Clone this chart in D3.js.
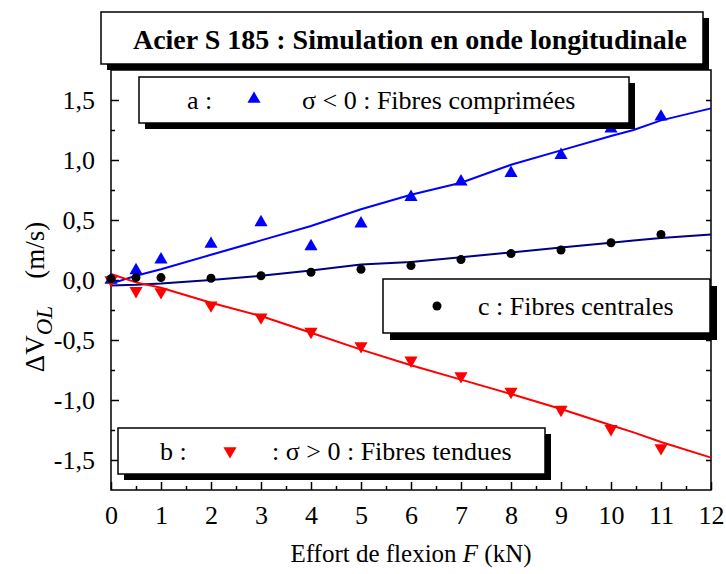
<!DOCTYPE html>
<html>
<head>
<meta charset="utf-8">
<script src="https://cdn.jsdelivr.net/npm/d3@7"></script>
<style>
  html, body { margin: 0; padding: 0; background: #fff; }
  svg { display: block; }
  svg text { font-family: "Times New Roman", "Liberation Serif", Times, serif; }
</style>
</head>
<body>
<svg id="chart" width="726" height="574"></svg>
<script>
// Measured load steps (kN) and velocity changes (m/s)
const loadF = [0, 0.5, 1, 2, 3, 4, 5, 6, 7, 8, 9, 10, 11];
const compressed = [0.00, 0.08, 0.17, 0.30, 0.48, 0.28, 0.47, 0.69, 0.82, 0.89, 1.04, 1.26, 1.36];
const tensile = [0.00, -0.09, -0.10, -0.21, -0.31, -0.43, -0.55, -0.67, -0.80, -0.93, -1.08, -1.24, -1.40];
const central = [0.01, 0.02, 0.02, 0.015, 0.035, 0.065, 0.09, 0.12, 0.17, 0.22, 0.25, 0.31, 0.38];

// Simulated curves
const simF = [0, 0.5, 1, 2, 3, 4, 5, 6, 7, 8, 9, 10, 10.45, 11, 12];
const simCompressed = [-0.03, 0.035, 0.09, 0.21, 0.33, 0.45, 0.59, 0.71, 0.81, 0.96, 1.08, 1.20, 1.25, 1.33, 1.43];
const simTensile = [0.05, -0.02, -0.065, -0.19, -0.30, -0.44, -0.58, -0.71, -0.83, -0.95, -1.075, -1.21, -1.27, -1.35, -1.48];
const simCentral = [-0.045, -0.04, -0.03, 0.0, 0.035, 0.08, 0.13, 0.15, 0.19, 0.23, 0.27, 0.31, 0.33, 0.35, 0.38];

// Tick labels
const xTicks = [0, 1, 2, 3, 4, 5, 6, 7, 8, 9, 10, 11, 12];
const xTickLabels = ["0", "1", "2", "3", "4", "5", "6", "7", "8", "9", "10", "11", "12"];
const yTicks = [-1.5, -1.0, -0.5, 0, 0.5, 1.0, 1.5];
const yTickLabels = ["-1,5", "-1,0", "-0,5", "0,0", "0,5", "1,0", "1,5"];

const FONT = '"Times New Roman", "Liberation Serif", Times, serif';
const svg = d3.select("#chart");
const L = 111, R = 711, T = 70, B = 490;
const x = d3.scaleLinear().domain([0, 12]).range([L, R]);
const y = d3.scaleLinear().domain([-1.75, 1.75]).range([B, T]);

// Frame
svg.append("rect").attr("x", L).attr("y", T).attr("width", R - L).attr("height", B - T)
  .attr("fill", "none").attr("stroke", "#000").attr("stroke-width", 1.5);

// Bottom axis: major ticks inward with labels, minor ticks at half steps
const gx = svg.append("g").attr("transform", `translate(0,${B})`)
  .call(d3.axisBottom(x).tickValues(xTicks).tickSize(-8).tickPadding(16)
    .tickFormat((d, i) => xTickLabels[i]));
gx.attr("font-family", FONT).attr("font-size", 26);
gx.select(".domain").remove();
gx.selectAll("line").attr("stroke-width", 1.5);
gx.selectAll("text").attr("fill", "#000");
svg.append("g").attr("transform", `translate(0,${B})`)
  .call(d3.axisBottom(x).tickValues(d3.range(0.5, 12, 1)).tickSize(-4).tickFormat(""))
  .call(g => g.select(".domain").remove())
  .selectAll("line").attr("stroke-width", 1.5);

// Left axis
const gy = svg.append("g").attr("transform", `translate(${L},0)`)
  .call(d3.axisLeft(y).tickValues(yTicks).tickSize(-8).tickPadding(16)
    .tickFormat((d, i) => yTickLabels[i]));
gy.attr("font-family", FONT).attr("font-size", 26);
gy.select(".domain").remove();
gy.selectAll("line").attr("stroke-width", 1.5);
gy.selectAll("text").attr("fill", "#000");
svg.append("g").attr("transform", `translate(${L},0)`)
  .call(d3.axisLeft(y).tickValues(d3.range(-1.25, 1.5, 0.5)).tickSize(-4).tickFormat(""))
  .call(g => g.select(".domain").remove())
  .selectAll("line").attr("stroke-width", 1.5);

// Right axis ticks
svg.append("g").attr("transform", `translate(${R},0)`)
  .call(d3.axisRight(y).tickValues(d3.range(-1.5, 1.75, 0.25)).tickSize(-5).tickFormat(""))
  .call(g => g.select(".domain").remove())
  .selectAll("line").attr("stroke-width", 1.5);

// Axis titles
svg.append("text").attr("x", 411).attr("y", 562).attr("text-anchor", "middle")
  .attr("font-size", 25)
  .html('Effort de flexion  <tspan font-style="italic">F</tspan> (kN)');

const yt = svg.append("text").attr("transform", "translate(44,297) rotate(-90)")
  .attr("text-anchor", "middle").attr("font-size", 27);
yt.append("tspan").text("\u0394V");
yt.append("tspan").attr("font-style", "italic").attr("font-size", 23).attr("dy", 8).text("OL");
yt.append("tspan").attr("dy", -8).text("\u2002\u2002(m/s)");

// Simulated lines
const line = d3.line().x(d => x(d[0])).y(d => y(d[1]));
const curves = [
  { v: simCompressed, c: "#0000ff" },
  { v: simCentral, c: "#000080" },
  { v: simTensile, c: "#ff0000" }
];
curves.forEach(s => {
  svg.append("path").datum(simF.map((f, i) => [f, s.v[i]]))
    .attr("d", line).attr("fill", "none").attr("stroke", s.c).attr("stroke-width", 2);
});

// Markers
const triUp = d3.symbol().type(d3.symbolTriangle).size(75);
svg.append("g").selectAll("path").data(loadF.map((f, i) => [f, compressed[i]])).join("path")
  .attr("d", triUp).attr("fill", "#0000ff")
  .attr("transform", d => `translate(${x(d[0])},${y(d[1])})`);
svg.append("g").selectAll("path").data(loadF.map((f, i) => [f, tensile[i]])).join("path")
  .attr("d", triUp).attr("fill", "#ff0000")
  .attr("transform", d => `translate(${x(d[0])},${y(d[1])}) rotate(180)`);
svg.append("g").selectAll("circle").data(loadF.map((f, i) => [f, central[i]])).join("circle")
  .attr("cx", d => x(d[0])).attr("cy", d => y(d[1])).attr("r", 4.5).attr("fill", "#000");

// Boxed labels with drop shadow
function shadowBox(x0, y0, w, h, off) {
  svg.append("rect").attr("x", x0 + off).attr("y", y0 + off).attr("width", w).attr("height", h).attr("fill", "#000");
  svg.append("rect").attr("x", x0).attr("y", y0).attr("width", w).attr("height", h)
    .attr("fill", "#fff").attr("stroke", "#000").attr("stroke-width", 1.5);
}

// Title
shadowBox(101, 12, 602, 52, 6);
svg.append("text").attr("x", 410).attr("y", 49).attr("text-anchor", "middle")
  .attr("font-size", 28).attr("font-weight", "bold").text("Acier S 185 : Simulation en onde longitudinale");

// Legend a
shadowBox(139, 77, 490, 46, 6);
svg.append("text").attr("x", 187).attr("y", 109).attr("font-size", 26).text("a :");
svg.append("path").attr("d", triUp).attr("fill", "#0000ff").attr("transform", "translate(254,99)");
svg.append("text").attr("x", 302).attr("y", 109).attr("font-size", 26).text("\u03c3 < 0 : Fibres comprimées");

// Legend c
shadowBox(383, 279, 327, 54, 7);
svg.append("circle").attr("cx", 437).attr("cy", 306).attr("r", 4.5).attr("fill", "#000");
svg.append("text").attr("x", 478).attr("y", 315).attr("font-size", 26).text("c : Fibres centrales");

// Legend b
shadowBox(118, 428, 427, 46, 6);
svg.append("text").attr("x", 160).attr("y", 460).attr("font-size", 26).text("b :");
svg.append("path").attr("d", triUp).attr("fill", "#ff0000").attr("transform", "translate(230,451) rotate(180)");
svg.append("text").attr("x", 272).attr("y", 460).attr("font-size", 26).text(": \u03c3 > 0 : Fibres tendues");
</script>
</body>
</html>
